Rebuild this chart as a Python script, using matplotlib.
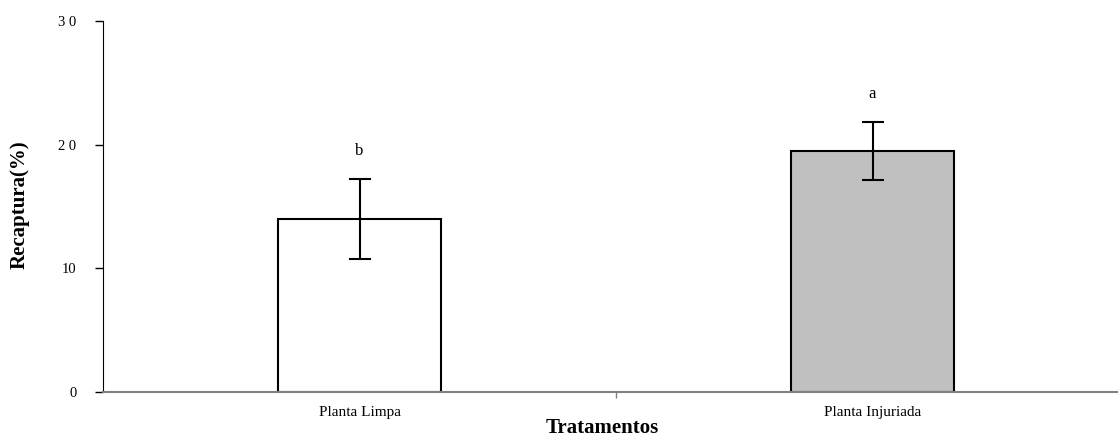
import matplotlib
matplotlib.use('Agg')
import matplotlib.pyplot as plt
import numpy as np

tratamentos = ['Planta Limpa', 'Planta Injuriada']
recaptura = [14.0, 19.5]
erro = [3.25, 2.35]
letras = ['b', 'a']
cores = ['white', '#c0c0c0']

plt.rcParams['font.family'] = ['Liberation Serif', 'DejaVu Serif']

fig = plt.figure(figsize=(11.18, 4.36), dpi=100)
ax = fig.add_axes([103 / 1118, 1 - 392 / 436, 1026 / 1118, (392 - 21) / 436])

x = np.arange(len(tratamentos))
ax.bar(x, recaptura, width=0.316, color=cores, edgecolor='black', linewidth=1.5, zorder=2)
ax.errorbar(x, recaptura, yerr=erro, fmt='none', ecolor='black', elinewidth=1.5,
            capsize=8, capthick=1.5, zorder=3)

# letras de significancia
for xi, v, e, l in zip(x, recaptura, erro, letras):
    ax.text(xi, v + e + 1.6, l, ha='center', va='bottom', fontsize=12)

ax.set_xlim(-0.5, 1.5)
ax.set_ylim(0, 30)
ax.set_yticks([0, 10, 20, 30])
ax.set_yticklabels(['0', '10', '2 0', '3 0'], fontsize=10.5)
ax.set_xticks([0.5])
ax.set_xticklabels([''])
ax.tick_params(axis='y', direction='out', length=6, width=1, pad=13)
ax.tick_params(axis='x', direction='out', length=4, width=1, color='#808080')

for xi, t in zip(x, tratamentos):
    ax.text(xi, -1.1, t, ha='center', va='top', fontsize=11)

ax.spines['top'].set_visible(False)
ax.spines['right'].set_visible(False)
ax.spines['left'].set_color('black')
ax.spines['bottom'].set_color('#808080')
ax.spines['bottom'].set_linewidth(1.5)

fig.text(602 / 1118, 1 - 433 / 436, 'Tratamentos', ha='center', va='baseline',
         fontsize=15, fontweight='bold')
fig.text(20 / 1118, 1 - 205 / 436, 'Recaptura(%)', ha='center', va='center',
         rotation=90, fontsize=15, fontweight='bold')

fig.savefig('out.png', dpi=100)
plt.close()
